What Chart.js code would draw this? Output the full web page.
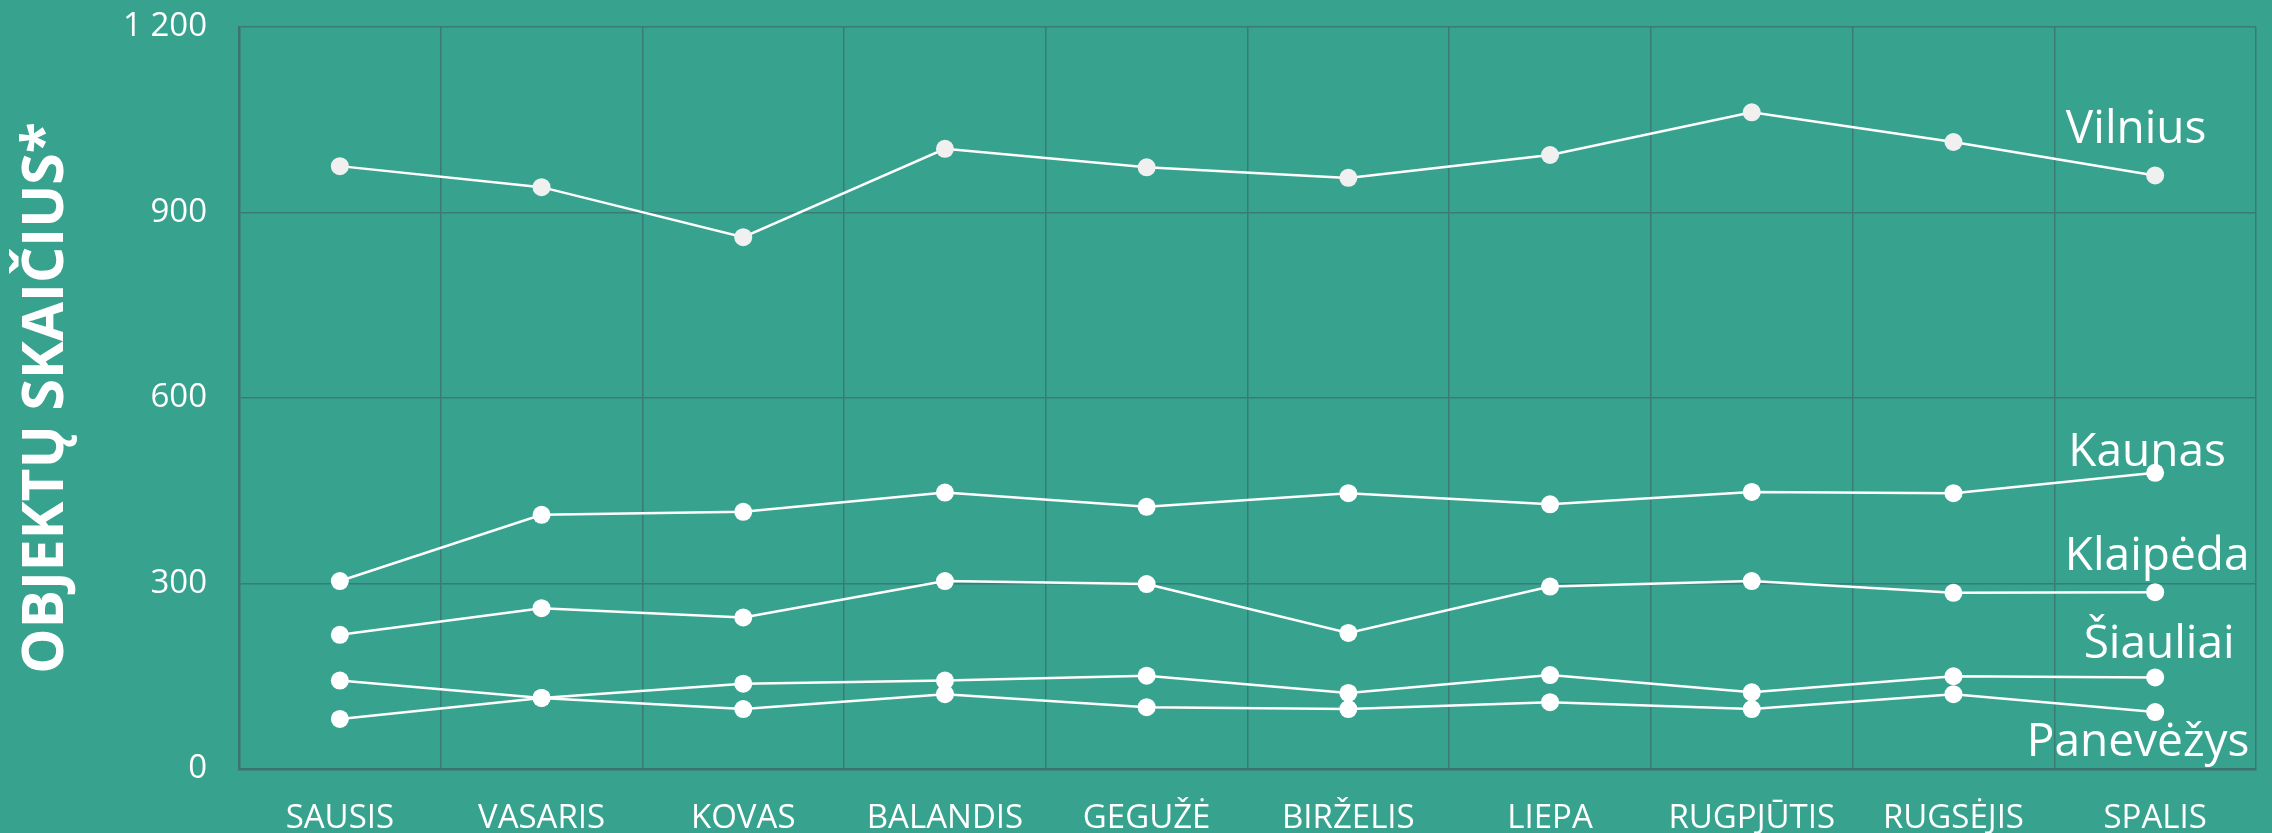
<!DOCTYPE html>
<html>
<head>
<meta charset="utf-8">
<script src="https://cdn.jsdelivr.net/npm/chart.js@4.4.1/dist/chart.umd.min.js"></script>
<style>
  html, body { margin: 0; padding: 0; background: #37A38F; }
  #wrap { width: 2272px; height: 833px; }
</style>
</head>
<body>
<div id="wrap"><canvas id="c" width="2272" height="833"></canvas></div>
<script>
const months = ['SAUSIS','VASARIS','KOVAS','BALANDIS','GEGUŽĖ','BIRŽELIS','LIEPA','RUGPJŪTIS','RUGSĖJIS','SPALIS'];
const cityNames = ['Vilnius','Kaunas','Klaipėda','Šiauliai','Panevėžys'];
const vilnius   = [975, 941, 860, 1003, 973, 956, 993, 1062, 1014, 960];
const kaunas    = [304, 411, 416, 447, 424, 446, 428, 448, 446, 479];
const klaipeda  = [217, 260, 245, 304, 299, 220, 295, 304, 285, 286];
const siauliai  = [81, 115, 138, 143, 151, 123, 152, 124, 150, 148];
const panevezys = [143, 115, 97, 121, 100, 97, 108, 97, 121, 92];
const yTicks = [0, 300, 600, 900, 1200];
const yTitle = 'OBJEKTŲ SKAIČIUS*';

// label offsets relative to each series' last point (style, not data)
const labelOffsets = [[-19, -32], [-8, -7], [2, -22], [4, -19], [-17, 44]];

const BG = '#37A38F';
const GRID = '#3A7B76';
const BORDER = '#3E7271';
const seriesValues = [vilnius, kaunas, klaipeda, siauliai, panevezys];
const pointColors = ['#F0F0F0', '#FFFFFF', '#FFFFFF', '#FFFFFF', '#FFFFFF'];

const endLabels = {
  id: 'endLabels',
  afterDatasetsDraw(chart) {
    const ctx = chart.ctx;
    ctx.save();
    ctx.fillStyle = '#FFFFFF';
    ctx.font = '46px "Open Sans"';
    ctx.textAlign = 'center';
    ctx.textBaseline = 'alphabetic';
    chart.data.datasets.forEach((ds, i) => {
      const meta = chart.getDatasetMeta(i);
      const pt = meta.data[meta.data.length - 1];
      const off = labelOffsets[i];
      ctx.fillText(ds.label, pt.x + off[0], pt.y + off[1]);
    });
    ctx.restore();
  }
};

const bgPlugin = {
  id: 'bg',
  beforeDraw(chart) {
    const ctx = chart.ctx;
    ctx.save();
    ctx.fillStyle = BG;
    ctx.fillRect(0, 0, chart.width, chart.height);
    ctx.restore();
  }
};

new Chart(document.getElementById('c'), {
  type: 'line',
  data: {
    labels: months,
    datasets: seriesValues.map((vals, i) => ({
      label: cityNames[i],
      data: vals,
      borderColor: '#FFFFFF',
      borderWidth: 2.5,
      pointRadius: 9,
      pointBackgroundColor: pointColors[i],
      pointBorderColor: pointColors[i],
      pointBorderWidth: 0,
      tension: 0
    }))
  },
  options: {
    responsive: false,
    devicePixelRatio: 1,
    animation: false,
    layout: { padding: { top: 27, right: 16, bottom: 0, left: 0 } },
    plugins: { legend: { display: false }, tooltip: { enabled: false } },
    scales: {
      x: {
        offset: true,
        afterFit(scale) { scale.height = 64; },
        grid: { color: GRID, lineWidth: 1.5, offset: true, drawTicks: false },
        border: { color: BORDER, width: 2.5 },
        ticks: { color: '#FFFFFF', font: { family: 'Open Sans', size: 33 }, padding: 30, maxRotation: 0, autoSkip: false }
      },
      y: {
        min: 0, max: 1200,
        afterBuildTicks(scale) { scale.ticks = yTicks.map(v => ({ value: v })); },
        afterFit(scale) { scale.width = 239; scale.paddingTop = 0; scale.paddingBottom = 0; },
        grid: { color: GRID, lineWidth: 1.5, drawTicks: false },
        border: { color: BORDER, width: 2.5 },
        ticks: {
          color: '#FFFFFF',
          font: { family: 'Open Sans', size: 33 },
          padding: 32,
          callback: v => String(v).replace(/\B(?=(\d{3})+(?!\d))/g, ' ')
        },
        title: {
          display: true,
          text: yTitle,
          color: '#FFFFFF',
          font: { family: 'Open Sans', size: 57, weight: 'bold' },
          padding: { top: 13, bottom: 0 }
        }
      }
    }
  },
  plugins: [bgPlugin, endLabels]
});
</script>
</body>
</html>
